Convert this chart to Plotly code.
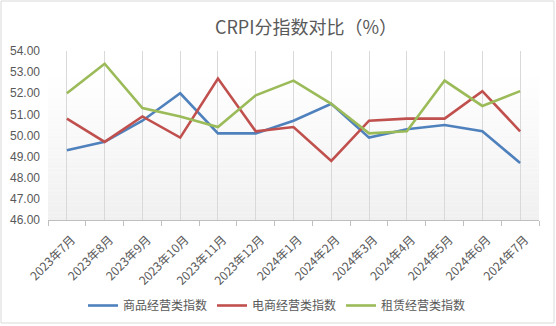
import plotly.graph_objects as go

# Monthly CRPI sub-index values (%)
months = ["2023年7月", "2023年8月", "2023年9月", "2023年10月", "2023年11月", "2023年12月",
          "2024年1月", "2024年2月", "2024年3月", "2024年4月", "2024年5月", "2024年6月", "2024年7月"]
goods_index = [49.3, 49.7, 50.7, 52.0, 50.1, 50.1, 50.7, 51.5, 49.9, 50.3, 50.5, 50.2, 48.7]
ecommerce_index = [50.8, 49.7, 50.9, 49.9, 52.7, 50.2, 50.4, 48.8, 50.7, 50.8, 50.8, 52.1, 50.2]
leasing_index = [52.0, 53.4, 51.3, 50.9, 50.4, 51.9, 52.6, 51.5, 50.1, 50.2, 52.6, 51.4, 52.1]

series_names = ["商品经营类指数", "电商经营类指数", "租赁经营类指数"]
series_colors = ["#4F81BD", "#C0504D", "#9BBB59"]

W, H = 556, 326
ML, MR, MT, MB = 48, 17, 51, 106
PW, PH = W - ML - MR, H - MT - MB

def px_x(px):
    return (px - ML) / PW

def px_y(py):
    return (H - MB - py) / PH

xpos = list(range(len(months)))

fig = go.Figure()
for name, vals, col in zip(series_names, [goods_index, ecommerce_index, leasing_index], series_colors):
    fig.add_trace(go.Scatter(x=xpos, y=vals, mode="lines", name=name,
                             line=dict(color=col, width=2.6)))

# soft vertical gradient behind the plot area
shapes = []
n_bands = 40
g_top = px_y(73)
for i in range(n_bands):
    t = (i + 0.5) / n_bands
    v = int(round(255 - (255 - 240) * t))
    y1 = g_top * (1 - i / n_bands)
    y0 = g_top * (1 - (i + 1) / n_bands)
    shapes.append(dict(type="rect", xref="paper", yref="paper", x0=0, x1=1,
                       y0=y0, y1=y1, line=dict(width=0),
                       fillcolor=f"rgb({v},{v},{v})", layer="below"))
# outer chart border
shapes.append(dict(type="rect", xref="paper", yref="paper",
                   x0=px_x(1), x1=px_x(554), y0=px_y(323), y1=px_y(1),
                   line=dict(color="#d9d9d9", width=1), layer="below"))

fig.update_layout(
    width=W, height=H,
    margin=dict(l=ML, r=MR, t=MT, b=MB, autoexpand=False),
    paper_bgcolor="white",
    plot_bgcolor="rgba(0,0,0,0)",
    font=dict(family="Liberation Sans, Noto Sans CJK SC", color="#595959", size=12),
    title=dict(text="CRPI分指数对比（%）", xref="container", x=306 / W, xanchor="center",
               y=1 - 28 / H, yanchor="middle",
               font=dict(family="Noto Sans CJK SC", size=18, color="#595959")),
    shapes=shapes,
    showlegend=True,
    legend=dict(orientation="h", x=px_x(277), xanchor="center",
                y=px_y(305.5), yanchor="middle",
                font=dict(family="Noto Sans CJK SC", size=12, color="#595959"),
                bgcolor="rgba(0,0,0,0)", itemwidth=30, tracegroupgap=0),
)

fig.update_xaxes(
    range=[-0.5, len(months) - 0.5],
    tickmode="array", tickvals=xpos, ticktext=months,
    tickangle=-45, ticks="", automargin=False,
    ticklabelshift=5, ticklabelstandoff=7,
    tickfont=dict(family="Noto Sans CJK SC", size=12, color="#595959"),
    showgrid=True, gridcolor="#d9d9d9", gridwidth=1,
    showline=True, linecolor="#bfbfbf", linewidth=1,
    minor=dict(tickmode="array", tickvals=[i - 0.5 for i in range(len(months) + 1)],
               ticks="outside", ticklen=5, tickcolor="#bfbfbf", showgrid=False),
    zeroline=False, fixedrange=True,
)
fig.update_yaxes(
    range=[46, 54], dtick=1, tick0=46, tickformat=".2f",
    showgrid=False, zeroline=False, showline=False, ticks="", automargin=False,
    ticklabelstandoff=7,
    tickfont=dict(family="Liberation Sans", size=12, color="#595959"),
    fixedrange=True,
)

fig.write_html("out.html")
